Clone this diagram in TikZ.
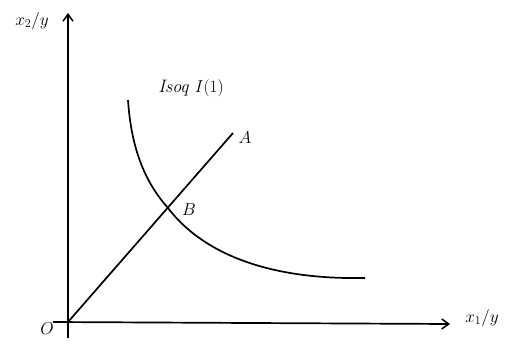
\documentclass[tikz,border=0pt]{standalone}
\usetikzlibrary{arrows.meta}
\begin{document}
\begin{tikzpicture}[x=1pt,y=-1pt,
  axis/.style={line width=1.7pt,-{Straight Barb[length=7pt,width=10pt,line width=1.5pt]}},
  curve/.style={line width=1.7pt},
  lab/.style={font=\fontsize{18}{20}\selectfont\itshape, inner sep=0pt}]
\useasboundingbox (0,0) rectangle (510,344);
\coordinate (O) at (68,322);
\coordinate (ytop) at (68,13);
\coordinate (ybot) at (68,338);
\coordinate (xleft) at (53,322);
\coordinate (xright) at (450,324);
\coordinate (Aend) at (233,133);
\coordinate (B) at (168,208);
\coordinate (Cstart) at (128,100);
\coordinate (Cend) at (365,278);
\draw[axis] (ybot) -- (ytop);
\draw[axis] (xleft) -- (xright);
\draw[curve] (O) -- (Aend);
\draw[curve] (Cstart) .. controls (131,145) and (143,180) .. (B)
  .. controls (200,250) and (262,280) .. (Cend);
\node[lab] (y2) at (32,21) {$x_2/y$};
\node[lab] (x1) at (482,318) {$x_1/y$};
\node[lab] (o) at (47,329) {$O$};
\node[lab] (a) at (245,138) {$A$};
\node[lab] (b) at (189,210) {$B$};
\node[lab] (iso) at (191,88) {Isoq $I(1)$};
\end{tikzpicture}
\end{document}
